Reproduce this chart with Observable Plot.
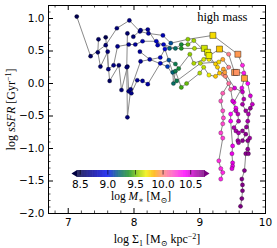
<!DOCTYPE html>
<html><head><meta charset="utf-8">
<script src="https://cdn.jsdelivr.net/npm/d3@7"></script>
<script src="https://cdn.jsdelivr.net/npm/@observablehq/plot@0.6"></script>
<style>body{margin:0;background:#fff} #wrap{position:relative;width:277px;height:248px}</style>
</head><body><div id="wrap"></div>
<script>
// [log Sigma1, log sSFR, log M*, marked]
const track1 = [[7.13,1.03,8.50],[7.34,0.42,8.55],[7.57,0.59,8.60],[7.74,0.85,8.62],[7.93,0.97,8.65],[8.09,0.80,8.70],[8.22,0.77,8.75],[8.44,0.74,8.80],[8.56,0.62,9.15],[8.82,0.68,9.55],[9.20,0.74,9.75,1],[9.58,0.45,9.95,1],[9.65,0.28,10.30],[9.73,0.00,10.40],[9.77,-0.19,10.50],[9.80,-0.32,10.55],[9.74,-0.47,10.60],[9.73,-0.58,10.62],[9.76,-0.84,10.65],[9.73,-1.01,10.68],[9.70,-1.08,10.70],[9.68,-1.34,10.72],[9.64,-1.47,10.73],[9.65,-1.56,10.73],[9.65,-1.65,10.74],[9.64,-1.77,10.74],[9.62,-1.89,10.75]];
const track2 = [[7.46,0.68,8.55],[7.45,0.48,8.57],[7.49,0.26,8.60],[7.60,0.49,8.62],[7.61,0.22,8.63],[7.69,0.28,8.65],[7.75,0.57,8.68],[7.92,0.60,8.70],[8.02,0.60,8.72],[8.13,0.65,8.78],[8.34,0.65,8.85],[8.54,0.54,9.20],[8.72,0.54,9.40],[8.92,0.54,9.60],[9.07,0.54,9.65,1],[9.12,0.48,9.70,1],[9.14,0.37,9.72],[9.24,0.30,9.78],[9.35,0.37,9.90],[9.44,0.25,10.05],[9.36,0.14,10.00],[9.44,0.00,10.10],[9.35,-0.15,10.15],[9.32,-0.27,10.18],[9.35,-0.42,10.20],[9.36,-0.53,10.22],[9.35,-0.62,10.22],[9.32,-0.76,10.24],[9.35,-0.84,10.25],[9.29,-1.19,10.28],[9.32,-1.31,10.30],[9.35,-1.37,10.30],[9.32,-1.47,10.32]];
const track3 = [[7.57,0.71,8.50],[7.63,0.04,8.55],[7.77,0.28,8.58],[7.81,-0.10,8.60],[7.90,0.26,8.62],[7.92,-0.12,8.65],[7.96,-0.15,8.66],[8.05,0.05,8.70],[8.13,0.04,8.72],[8.21,-0.01,8.75],[8.40,0.31,8.85],[8.53,0.36,9.15],[8.63,0.30,9.30],[8.68,0.23,9.35],[8.85,0.45,9.55],[8.91,0.31,9.60],[9.06,0.37,9.65],[9.30,0.53,9.80,1],[9.44,0.45,10.05],[9.53,0.17,9.95,1],[9.56,0.17,9.97,1],[9.67,0.16,10.35],[9.68,0.08,9.92,1],[9.64,-0.07,10.45],[9.52,-0.29,10.40],[9.55,-0.38,10.42],[9.47,-0.47,10.40],[9.47,-0.58,10.42],[9.50,-0.96,10.45],[9.49,-1.08,10.45],[9.50,-1.22,10.47],[9.50,-1.27,10.47],[9.49,-1.31,10.48]];
const track4 = [[7.90,0.77,8.58],[7.89,0.25,8.60],[7.90,-0.52,8.62],[7.95,-0.09,8.65],[8.10,0.34,8.72],[8.40,0.40,8.85],[8.47,0.53,8.90],[8.59,0.17,9.20],[8.60,0.00,9.25],[8.63,0.19,9.30],[8.72,-0.06,9.45],[8.80,0.00,9.50],[9.00,0.16,9.60],[9.06,0.25,9.62],[9.14,0.13,9.70],[9.24,0.11,9.80],[9.36,0.22,9.90],[9.39,0.11,10.00],[9.47,-0.09,10.10],[9.50,-0.27,10.50],[9.55,-0.42,10.55],[9.58,-0.47,10.58],[9.59,-0.58,10.60],[9.52,-0.68,10.60],[9.55,-0.73,10.62],[9.59,-0.76,10.62],[9.58,-0.88,10.63],[9.59,-0.91,10.64]];
const track5 = [[7.99,0.72,8.60],[8.10,0.82,8.65],[8.21,0.83,8.70],[8.36,0.59,8.80],[8.45,0.60,8.85],[8.63,0.54,9.25],[8.72,0.60,9.35],[8.82,0.60,9.50],[8.91,0.66,9.58],[9.14,0.43,9.70,1],[9.27,0.25,9.78],[9.30,0.16,9.80],[9.38,0.17,9.92],[9.53,-0.07,10.50],[9.65,-0.13,10.55],[9.67,-0.24,10.60],[9.65,-0.32,10.62],[9.70,-0.42,10.65],[9.77,-0.38,10.67],[9.71,-0.67,10.68],[9.65,-0.73,10.68],[9.70,-0.78,10.70],[9.65,-0.88,10.70],[9.73,-0.88,10.70],[9.74,-1.08,10.72]];
const track6 = [[8.09,0.49,8.72],[8.24,0.37,8.78],[8.51,0.26,9.10],[8.65,0.04,9.30],[9.01,0.31,9.62],[9.29,0.33,9.75]];
const tracks = [track1, track2, track3, track4, track5, track6];

const xMajorTicks = [7, 8, 9, 10];
const yMajorTicks = [-2, -1.5, -1, -0.5, 0, 0.5, 1];
const cbarTicks = [8.5, 9.0, 9.5, 10.0, 10.5];
const massStops  = [8.45, 8.75, 9.0, 9.2, 9.4, 9.55, 9.7, 9.85, 10.0, 10.2, 10.4, 10.6, 10.75];
const massColors = ["#000040","#0000a0","#0010f0","#00607a","#1a9420","#8fcc00","#f0f000","#ffb000","#ff8c7a","#ff50c8","#ff00ff","#b000b0","#7a0080"];
const titleText = "high mass";
const xLabel = "log Σ1 [M⊙ kpc-2]";
const yLabel = "log sSFR [Gyr-1]";
const cLabel = "log M* [M⊙]";

const points = tracks.flatMap((t, i) => t.map(([s, ssfr, m, mk]) => ({track: i, s, ssfr, m, mk: !!mk})));

const W = 277, H = 248, mt = 5, mb = 35, ml = 48, mr = 12;
const innerH = H - mt - mb, innerW = W - ml - mr;
const xMinor = d3.range(6.8, 10.01, 0.2).map(v => +v.toFixed(1)).filter(v => !xMajorTicks.includes(v));
const yMinor = d3.range(-2, 1.21, 0.1).map(v => +v.toFixed(1)).filter(v => !yMajorTicks.includes(v));
const colorOpts = {type: "linear", domain: massStops, range: massColors, clamp: true};
const fmt = d3.format(".1f");
const serif = "Liberation Serif, DejaVu Serif, serif";

const main = Plot.plot({
  width: W, height: H, marginTop: mt, marginBottom: mb, marginLeft: ml, marginRight: mr,
  style: {fontFamily: "DejaVu Sans", fontSize: "10.5px", background: "transparent", color: "#000"},
  x: {domain: [6.7, 10]}, y: {domain: [-2, 1.2]},
  color: colorOpts,
  marks: [
    Plot.line(points, {x: "s", y: "ssfr", z: "track", stroke: "#8a8a8a", strokeWidth: 1}),
    Plot.dot(points.filter(d => !d.mk), {x: "s", y: "ssfr", fill: "m", r: 2.1, stroke: "#000", strokeOpacity: 0.45, strokeWidth: 0.6}),
    Plot.dot(points.filter(d => d.mk), {x: "s", y: "ssfr", fill: "m", symbol: "square", r: 3.4, stroke: "#000", strokeOpacity: 0.6, strokeWidth: 0.7}),
    Plot.frame({stroke: "#000", strokeWidth: 1}),
    Plot.ruleX(xMajorTicks, {insetTop: innerH - 5, stroke: "#000"}),
    Plot.ruleX(xMajorTicks, {insetBottom: innerH - 5, stroke: "#000"}),
    Plot.ruleX(xMinor, {insetTop: innerH - 2.5, stroke: "#000", strokeWidth: 0.7}),
    Plot.ruleX(xMinor, {insetBottom: innerH - 2.5, stroke: "#000", strokeWidth: 0.7}),
    Plot.ruleY(yMajorTicks, {insetRight: innerW - 5, stroke: "#000"}),
    Plot.ruleY(yMajorTicks, {insetLeft: innerW - 5, stroke: "#000"}),
    Plot.ruleY(yMinor, {insetRight: innerW - 2.5, stroke: "#000", strokeWidth: 0.7}),
    Plot.ruleY(yMinor, {insetLeft: innerW - 2.5, stroke: "#000", strokeWidth: 0.7}),
    Plot.axisX(xMajorTicks, {tickSize: 0, tickPadding: 5, label: null, tickFormat: d => String(d)}),
    Plot.axisY(yMajorTicks, {tickSize: 0, tickPadding: 4, label: null, tickFormat: fmt}),
    Plot.text([titleText], {frameAnchor: "top-right", textAnchor: "end", lineAnchor: "top", dx: -18, dy: 7, fontFamily: serif, fontSize: 12.5}),
    Plot.text([xLabel], {frameAnchor: "bottom", textAnchor: "middle", lineAnchor: "middle", dy: 26, fontFamily: serif, fontSize: 12}),
    Plot.text([yLabel], {frameAnchor: "left", textAnchor: "middle", lineAnchor: "middle", rotate: -90, dx: -37, fontFamily: serif, fontSize: 12})
  ]
});

const cbW = 155, cbH = 48;
const cbSteps = d3.range(8.45, 10.75, 0.01);
const cb = Plot.plot({
  width: cbW, height: cbH, marginLeft: 15, marginRight: 13, marginTop: 7, marginBottom: 34,
  style: {fontFamily: "DejaVu Sans", fontSize: "10.5px", background: "transparent", color: "#000"},
  x: {domain: [8.45, 10.75]}, y: {domain: [0, 1], axis: null},
  color: colorOpts,
  marks: [
    Plot.rect(cbSteps, {x1: d => d, x2: d => d + 0.012, y1: 0, y2: 1, fill: d => d + 0.005}),
    Plot.areaY([{x: 8.35, a: 0.5, b: 0.5}, {x: 8.45, a: 0, b: 1}], {x: "x", y1: "a", y2: "b", fill: massColors[0]}),
    Plot.areaY([{x: 10.75, a: 0, b: 1}, {x: 10.85, a: 0.5, b: 0.5}], {x: "x", y1: "a", y2: "b", fill: massColors[massColors.length - 1]}),
    Plot.ruleX(cbarTicks, {y1: 0.35, y2: 1, stroke: "#000", strokeWidth: 0.6}),
    Plot.axisX(cbarTicks, {tickSize: 0, tickPadding: 3, label: null, tickFormat: fmt}),
    Plot.text([cLabel], {frameAnchor: "bottom", textAnchor: "middle", lineAnchor: "middle", dy: 19, fontFamily: serif, fontSize: 11.5})
  ]
});

function rich(svg, plain, html) {
  svg.querySelectorAll("text").forEach(t => { if (t.textContent === plain) t.innerHTML = html; });
}
rich(main, xLabel, `log Σ<tspan dy="3" font-size="8">1</tspan><tspan dy="-3"> [M</tspan><tspan dy="3" font-size="8">⊙</tspan><tspan dy="-3"> kpc</tspan><tspan dy="-4" font-size="8">−2</tspan><tspan dy="4">]</tspan>`);
rich(main, yLabel, `log <tspan font-style="italic">sSFR</tspan> [Gyr<tspan dy="-4" font-size="8">−1</tspan><tspan dy="4">]</tspan>`);
rich(cb, cLabel, `log <tspan font-style="italic">M</tspan><tspan dy="3" font-size="8">∗</tspan><tspan dy="-3"> [M</tspan><tspan dy="3" font-size="8">⊙</tspan><tspan dy="-3">]</tspan>`);

const wrap = document.getElementById("wrap");
wrap.appendChild(main);
cb.style.position = "absolute";
cb.style.left = "62px";
cb.style.top = "163px";
wrap.appendChild(cb);
</script>
</body></html>
